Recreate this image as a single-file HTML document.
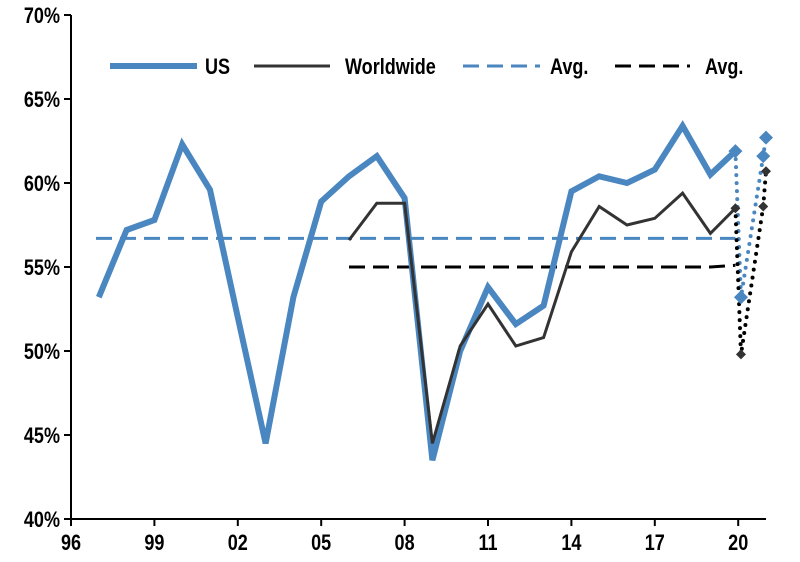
<!DOCTYPE html>
<html><head><meta charset="utf-8"><style>
html,body{margin:0;padding:0;background:#fff;}
svg{display:block;font-family:"Liberation Sans",Arial,sans-serif;}
</style></head><body>
<svg id="chart" width="800" height="562" viewBox="0 0 800 562" xmlns="http://www.w3.org/2000/svg"></svg>
<script>
const years = [1997,1998,1999,2000,2001,2002,2003,2004,2005,2006,2007,2008,2009,2010,2011,2012,2013,2014,2015,2016,2017,2018,2019,2019.9];
const usValues = [53.2,57.2,57.8,62.3,59.6,52,44.5,53.2,58.9,60.4,61.6,59.1,43.5,50,53.8,51.6,52.7,59.5,60.4,60,60.8,63.4,60.5,61.9];
const wwYears = [2006,2007,2008,2009,2010,2011,2012,2013,2014,2015,2016,2017,2018,2019,2019.9];
const wwValues = [56.6,58.8,58.8,44.5,50.3,52.8,50.3,50.8,55.9,58.6,57.5,57.9,59.4,57,58.5];
const usAvgYears = [1996.9,2019.9];
const usAvgValues = [56.7,56.7];
const wwAvgYears = [2006,2019,2019.9];
const wwAvgValues = [55,55,55.1];
const usExtYears = [2019.9,2020.1,2020.9,2021.0];
const usExtValues = [61.9,53.2,61.6,62.7];
const wwExtYears = [2019.9,2020.1,2020.9,2021.0];
const wwExtValues = [58.5,49.8,58.6,60.7];
const yTicks = [40,45,50,55,60,65,70];
const xTickYears = [1996,1999,2002,2005,2008,2011,2014,2017,2020];
const xTickLabels = ["96","99","02","05","08","11","14","17","20"];

const NS="http://www.w3.org/2000/svg";
const svg=document.getElementById('chart');
const X=y=>71+(y-1996)*27.8;
const Y=v=>519-(v-40)*16.8;
function mk(tag,attrs,parent){const e=document.createElementNS(NS,tag);for(const k in attrs)e.setAttribute(k,attrs[k]);(parent||svg).appendChild(e);return e;}
function pts(xs,vs){return xs.map((x,i)=>X(x).toFixed(1)+','+Y(vs[i]).toFixed(1)).join(' ');}

let ax=mk('line',{x1:71,y1:15,x2:71,y2:519,stroke:'#000','stroke-width':2});


ax=mk('line',{x1:64,y1:519,x2:766,y2:519,stroke:'#000','stroke-width':2});


yTicks.forEach(v=>{
  let t=mk('line',{x1:64,y1:Y(v),x2:71,y2:Y(v),stroke:'#000','stroke-width':2});
  
  
  let l=mk('text',{x:60,y:Y(v)+8,'text-anchor':'end','font-size':22,'font-weight':600,fill:'#000',transform:`translate(60,0) scale(0.82,1) translate(-60,0)`});
  l.textContent=v+'%';
  
  
});
xTickYears.forEach((yr,i)=>{
  let t=mk('line',{x1:X(yr),y1:519,x2:X(yr),y2:526,stroke:'#000','stroke-width':2});
  
  
  let l=mk('text',{x:X(yr),y:550,'text-anchor':'middle','font-size':22,'font-weight':600,fill:'#000',transform:`translate(${X(yr)},0) scale(0.82,1) translate(${-X(yr)},0)`});
  l.textContent=xTickLabels[i];
  
  
});

let s=mk('polyline',{points:pts(usAvgYears,usAvgValues),fill:'none',stroke:'#4a86c0','stroke-width':3,'stroke-dasharray':'16,8'});


s=mk('polyline',{points:pts(wwAvgYears,wwAvgValues),fill:'none',stroke:'#000','stroke-width':3,'stroke-dasharray':'16,8'});


s=mk('polyline',{points:pts(years,usValues),fill:'none',stroke:'#4a86c0','stroke-width':6,'stroke-linejoin':'miter'});


s=mk('polyline',{points:pts(wwYears,wwValues),fill:'none',stroke:'#333','stroke-width':3});


s=mk('polyline',{points:pts(usExtYears,usExtValues),fill:'none',stroke:'#4a86c0','stroke-width':4,'stroke-dasharray':'0,8','stroke-linecap':'round'});


s=mk('polyline',{points:pts(wwExtYears,wwExtValues),fill:'none',stroke:'#000','stroke-width':4,'stroke-dasharray':'0,8','stroke-linecap':'round'});


function diamond(x,y,r,c,name){const d=mk('polygon',{points:`${x},${y-r} ${x+r},${y} ${x},${y+r} ${x-r},${y}`,fill:c});
 
 }
usExtYears.forEach((yr,i)=>diamond(X(yr),Y(usExtValues[i]),7,'#4a86c0','us-marker'));
wwExtYears.forEach((yr,i)=>diamond(X(yr),Y(wwExtValues[i]),5,'#333','worldwide-marker'));

const leg=mk('g',{});


const items=[[110,197,205,'US','#4a86c0',6,''],[254,330,345,'Worldwide','#333',3,''],[463,540,550,'Avg.','#4a86c0',3,'16,8'],[615,690,705,'Avg.','#000',3,'16,8']];
items.forEach(it=>{
  const g=mk('g',{},leg);
  
  
  const a={x1:it[0],y1:66,x2:it[1],y2:66,stroke:it[4],'stroke-width':it[5]};
  if(it[6])a['stroke-dasharray']=it[6];
  mk('line',a,g);
  const t=mk('text',{x:it[2],y:74,'font-size':22,'font-weight':600,fill:'#000',transform:`translate(${it[2]},0) scale(0.82,1) translate(${-it[2]},0)`},g);
  t.textContent=it[3];
});
</script>
</body></html>
